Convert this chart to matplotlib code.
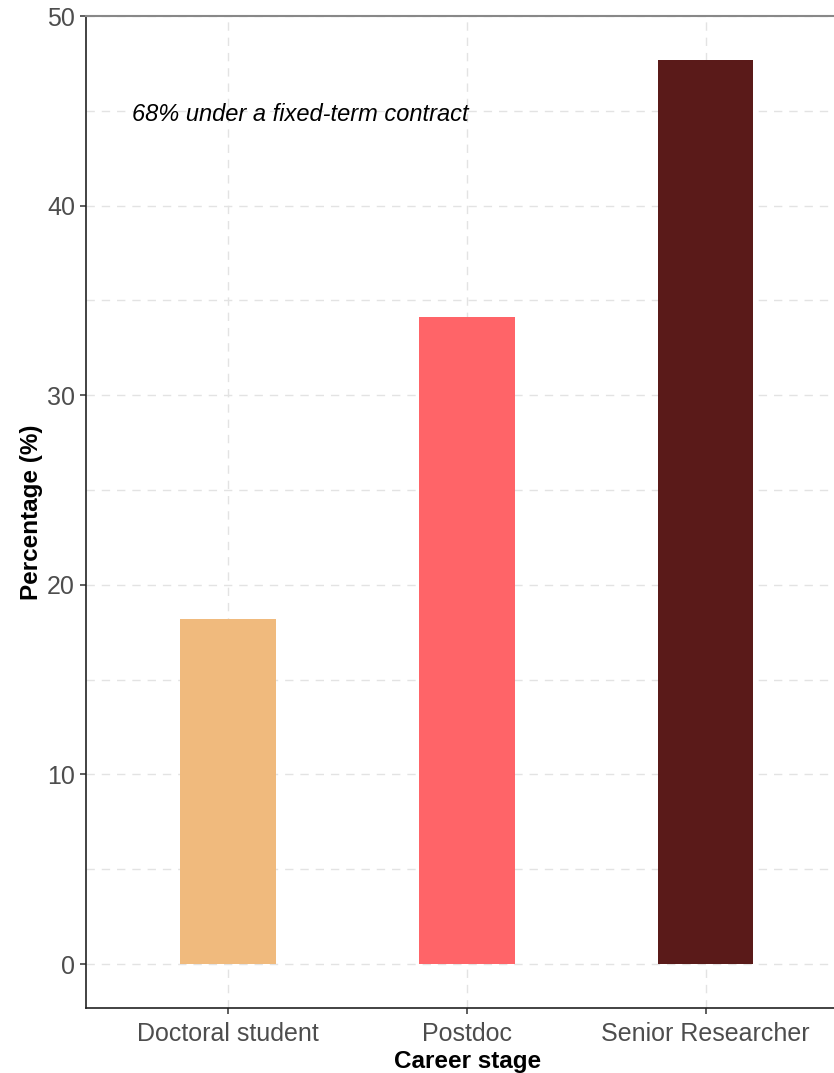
import matplotlib
matplotlib.use("Agg")
import matplotlib.pyplot as plt
from matplotlib.ticker import MultipleLocator

categories = ["Doctoral student", "Postdoc", "Senior Researcher"]
percentages = [18.2, 34.1, 47.7]
colors = ["#F0BA7D", "#FF6468", "#5A1A19"]
annotation = "68% under a fixed-term contract"

plt.rcParams['font.family'] = ['Liberation Sans', 'DejaVu Sans']

W, H = 834, 1073
fig = plt.figure(figsize=(W/100, H/100), dpi=100)
left, right, top, bottom = 86, 849, 16, 1008
ax = fig.add_axes([left/W, 1-bottom/H, (right-left)/W, (bottom-top)/H])

x = list(range(1, len(categories)+1))
ax.bar(x, percentages, width=0.4, color=colors, zorder=3)

ax.set_xlim(0.406, 3.6)
ax.set_ylim(-2.32, 50)
ax.set_xticks(x)
ax.set_xticklabels(categories)
ax.yaxis.set_major_locator(MultipleLocator(10))
ax.yaxis.set_minor_locator(MultipleLocator(5))
ax.grid(True, which='both', axis='y', color='#E3E3E3', linestyle=(0, (6, 5)), linewidth=1.0, zorder=0)
ax.grid(True, which='major', axis='x', color='#E3E3E3', linestyle=(0, (6, 5)), linewidth=1.0, zorder=0)
ax.tick_params(axis='y', which='minor', length=0)
ax.tick_params(axis='both', which='major', labelsize=18, labelcolor='#4D4D4D', color='#333333', length=4, width=1.1)
ax.tick_params(axis='x', pad=6)
ax.tick_params(axis='y', pad=4)

for s in ['left', 'bottom']:
    ax.spines[s].set_color('#222222')
    ax.spines[s].set_linewidth(1.2)
ax.spines['top'].set_color('#888888')
ax.spines['top'].set_linewidth(1.5)
ax.spines['right'].set_visible(False)

ax.set_xlabel("Career stage", fontsize=17.5, fontweight='bold', labelpad=3)
ax.set_ylabel("Percentage (%)", fontsize=17.5, fontweight='bold', labelpad=3)

ax.text(0.6, 44.8, annotation, fontsize=17, style='italic', ha='left', va='center', color='black', zorder=4)

fig.savefig("out.png", dpi=100)
